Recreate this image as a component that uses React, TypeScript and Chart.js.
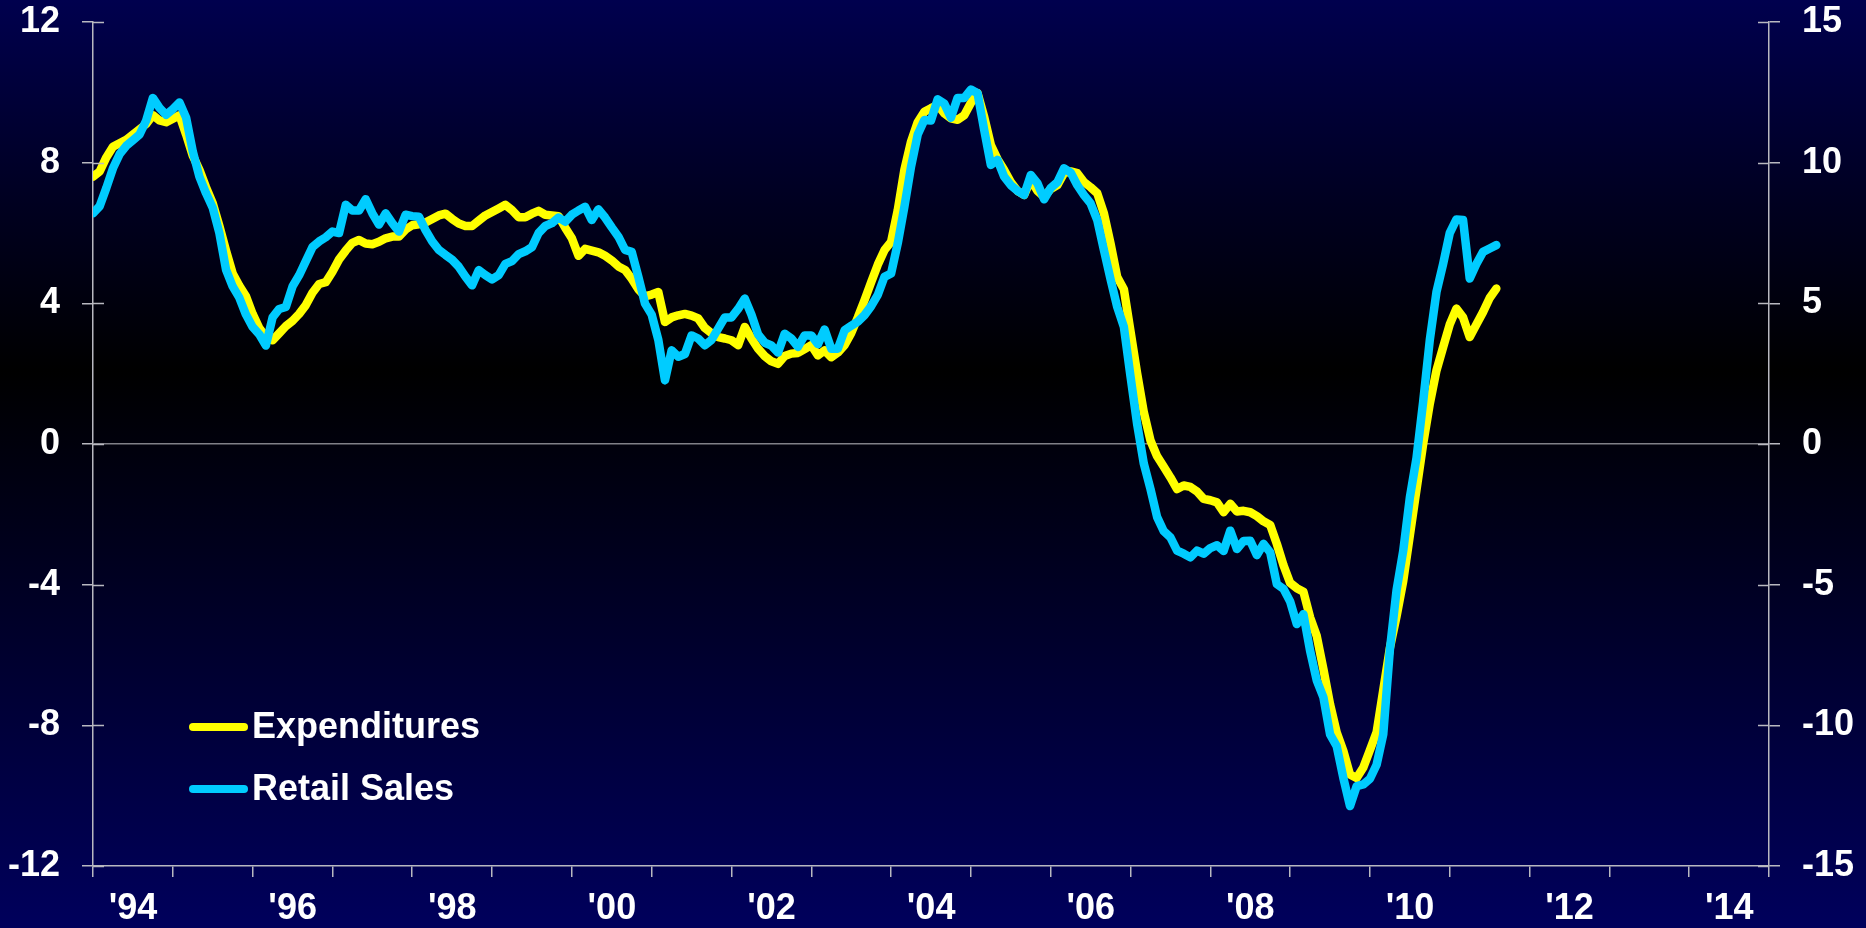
import React, { useEffect, useRef } from "react";
import { Chart, registerables } from "chart.js";

Chart.register(...registerables);

// ---- data -------------------------------------------------------------
const START_YEAR = 1994; // first monthly observation: Jan 1994
const END_YEAR = 2015; // axis runs to the end of 2014

const labelYears = [1994, 1996, 1998, 2000, 2002, 2004, 2006, 2008, 2010, 2012, 2014];
const xLabels = ["'94", "'96", "'98", "'00", "'02", "'04", "'06", "'08", "'10", "'12", "'14"];

const leftTicks = [-12, -8, -4, 0, 4, 8, 12];
const rightTicks = [-15, -10, -5, 0, 5, 10, 15];

const seriesNames = ["Expenditures", "Retail Sales"];
const seriesColors = ["#FFFF00", "#00CCFF"];

// Expenditures, y/y % (left axis), monthly from Jan 1994
const expenditures = [
  7.6, 7.75, 8.15, 8.45, 8.55, 8.65, 8.8, 8.95, 9.1, 9.35, 9.2, 9.15,
  9.25, 9.35, 8.8, 8.2, 7.8, 7.3, 6.85, 6.2, 5.5, 4.85, 4.5, 4.2,
  3.7, 3.3, 3.05, 2.95, 3.15, 3.35, 3.5, 3.7, 3.95, 4.3, 4.55, 4.6,
  4.9, 5.25, 5.5, 5.72, 5.8, 5.7, 5.68, 5.75, 5.85, 5.9, 5.9, 6.1,
  6.22, 6.25, 6.3, 6.4, 6.5, 6.55, 6.4, 6.27, 6.2, 6.2, 6.35, 6.5,
  6.6, 6.7, 6.8, 6.65, 6.45, 6.45, 6.55, 6.63, 6.52, 6.5, 6.48, 6.15,
  5.85, 5.35, 5.55, 5.5, 5.45, 5.35, 5.22, 5.05, 4.95, 4.7, 4.4, 4.2,
  4.25, 4.32, 3.47, 3.6, 3.66, 3.7, 3.65, 3.57, 3.3, 3.15, 3.04, 3.0,
  2.95, 2.81, 3.33, 3.0, 2.71, 2.5, 2.35, 2.28, 2.5, 2.57, 2.59, 2.7,
  2.81, 2.52, 2.66, 2.47, 2.6, 2.81, 3.15, 3.6, 4.09, 4.6, 5.1, 5.51,
  5.75, 6.65, 7.8, 8.6, 9.15, 9.45, 9.55, 9.64, 9.4, 9.26, 9.22, 9.35,
  9.7, 9.98, 9.3, 8.5, 8.1, 7.79, 7.45, 7.2, 7.08, 7.51, 7.2, 7.03,
  7.25, 7.36, 7.7, 7.75, 7.7, 7.45, 7.3, 7.13, 6.56, 5.7, 4.75, 4.4,
  3.2, 2.0, 0.9, 0.1, -0.35, -0.65, -0.95, -1.28, -1.18, -1.22, -1.35, -1.56,
  -1.6, -1.66, -1.94, -1.7, -1.92, -1.9, -1.94, -2.05, -2.2, -2.3, -2.84, -3.45,
  -3.95, -4.1, -4.2, -4.93, -5.46, -6.4, -7.4, -8.2, -8.73, -9.4, -9.5, -9.2,
  -8.7, -8.2, -7.0, -5.8, -4.9, -3.9, -2.6, -1.3, 0.0, 1.15, 2.09, 2.75,
  3.4, 3.85, 3.6, 3.04, 3.4, 3.75, 4.15, 4.42,
];

// Retail Sales, y/y % (right axis), monthly from Jan 1994
const retailSales = [
  8.2, 8.45, 9.1, 9.8, 10.3, 10.6, 10.8, 11.0, 11.5, 12.3, 11.95, 11.7,
  11.9, 12.14, 11.6, 10.4, 9.5, 8.91, 8.4, 7.5, 6.2, 5.6, 5.2, 4.6,
  4.16, 3.9, 3.5, 4.5, 4.8, 4.87, 5.6, 6.0, 6.5, 7.0, 7.2, 7.35,
  7.55, 7.5, 8.5, 8.3, 8.3, 8.7, 8.2, 7.8, 8.2, 7.85, 7.55, 8.15,
  8.1, 8.08, 7.6, 7.2, 6.9, 6.72, 6.55, 6.3, 5.95, 5.64, 6.18, 6.0,
  5.85, 6.0, 6.4, 6.5, 6.75, 6.85, 7.0, 7.5, 7.75, 7.85, 8.05, 7.9,
  8.15, 8.3, 8.43, 7.96, 8.34, 8.05, 7.7, 7.37, 6.9, 6.83, 5.94, 4.99,
  4.6, 3.7, 2.26, 3.33, 3.1, 3.2, 3.86, 3.75, 3.51, 3.7, 4.1, 4.5,
  4.5, 4.8, 5.17, 4.6, 3.9, 3.6, 3.5, 3.25, 3.92, 3.75, 3.45, 3.86,
  3.86, 3.55, 4.07, 3.39, 3.39, 4.04, 4.2, 4.35, 4.58, 4.9, 5.3, 5.94,
  6.06, 7.13, 8.43, 9.86, 11.0, 11.52, 11.5, 12.25, 12.1, 11.6, 12.3, 12.3,
  12.6, 12.47, 11.16, 9.92, 10.1, 9.5, 9.2, 9.0, 8.85, 9.56, 9.27, 8.7,
  9.1, 9.3, 9.8, 9.65, 9.2, 8.85, 8.55, 7.96, 6.89, 5.85, 4.87, 4.16,
  2.4, 0.7, -0.7, -1.6, -2.6, -3.1, -3.32, -3.79, -3.9, -4.03, -3.79, -3.9,
  -3.7, -3.6, -3.8, -3.08, -3.73, -3.45, -3.44, -3.95, -3.55, -3.85, -4.98, -5.15,
  -5.6, -6.4, -6.05, -7.35, -8.4, -9.0, -10.32, -10.74, -11.87, -12.87, -12.16, -12.1,
  -11.9, -11.4, -10.32, -7.3, -5.2, -3.8, -1.9, -0.5, 1.5, 3.7, 5.4, 6.4,
  7.5, 7.98, 7.96, 5.88, 6.4, 6.83, 6.95, 7.07,
];

// ---- styling ------------------------------------------------------------
const FONT = "'Liberation Sans', Arial, Helvetica, sans-serif";
const AXIS_COLOR = "#b8b8c0";
const TICK_LEN = 11;
const LINE_WIDTH = 8.5;

const toPoints = (vals: number[]) =>
  vals.map((v, i) => ({ x: START_YEAR + i / 12, y: v }));

const decorPlugin = {
  id: "decor",
  afterDraw(chart: any) {
    const ctx = chart.ctx as CanvasRenderingContext2D;
    const { left, right, bottom } = chart.chartArea;
    const yl = chart.scales.y;
    const yr = chart.scales.y2;
    ctx.save();
    // inner halves of the crossing tick marks
    ctx.strokeStyle = AXIS_COLOR;
    ctx.lineWidth = 1.5;
    yl.ticks.forEach((t: any) => {
      const p = Math.round(yl.getPixelForValue(t.value)) + 0.5;
      ctx.beginPath();
      ctx.moveTo(left, p);
      ctx.lineTo(left + TICK_LEN, p);
      ctx.stroke();
    });
    yr.ticks.forEach((t: any) => {
      const p = Math.round(yr.getPixelForValue(t.value)) + 0.5;
      ctx.beginPath();
      ctx.moveTo(right - TICK_LEN, p);
      ctx.lineTo(right, p);
      ctx.stroke();
    });
    // legend
    const lx = left + 100;
    const rows = [bottom - 139, bottom - 77];
    ctx.font = `bold 36px ${FONT}`;
    ctx.textBaseline = "middle";
    ctx.textAlign = "left";
    chart.data.datasets.forEach((ds: any, i: number) => {
      const y = rows[i];
      ctx.strokeStyle = ds.borderColor;
      ctx.lineWidth = 8;
      ctx.lineCap = "round";
      ctx.beginPath();
      ctx.moveTo(lx, y);
      ctx.lineTo(lx + 51, y);
      ctx.stroke();
      ctx.fillStyle = "#ffffff";
      ctx.fillText(ds.label, lx + 59, y + 1);
    });
    ctx.restore();
  },
};

const zeroPad = (s: any) => {
  s.paddingTop = 0;
  s.paddingBottom = 0;
  s.paddingLeft = 0;
  s.paddingRight = 0;
};

export default function App() {
  const canvasRef = useRef<HTMLCanvasElement | null>(null);

  useEffect(() => {
    if (!canvasRef.current) return;
    const tickFont = { family: FONT, size: 36, weight: "bold" as const };

    const chart = new Chart(canvasRef.current, {
      type: "line",
      data: {
        datasets: [
          {
            label: seriesNames[0],
            data: toPoints(expenditures),
            borderColor: seriesColors[0],
            backgroundColor: seriesColors[0],
            borderWidth: LINE_WIDTH,
            pointRadius: 0,
            tension: 0,
            borderJoinStyle: "round",
            borderCapStyle: "round",
            yAxisID: "y",
            order: 2,
          },
          {
            label: seriesNames[1],
            data: toPoints(retailSales),
            borderColor: seriesColors[1],
            backgroundColor: seriesColors[1],
            borderWidth: LINE_WIDTH,
            pointRadius: 0,
            tension: 0,
            borderJoinStyle: "round",
            borderCapStyle: "round",
            yAxisID: "y2",
            order: 1,
          },
        ],
      },
      options: {
        animation: false,
        responsive: false,
        devicePixelRatio: 1,
        parsing: false,
        layout: { padding: { top: 22, left: 0, right: 0, bottom: 0 } },
        plugins: {
          legend: { display: false },
          tooltip: { enabled: false },
        },
        scales: {
          x: {
            type: "linear",
            position: "bottom",
            min: START_YEAR,
            max: END_YEAR,
            afterBuildTicks: (s: any) => {
              const t = [];
              for (let yr = START_YEAR; yr <= END_YEAR; yr++) t.push({ value: yr });
              s.ticks = t;
            },
            afterFit: (s: any) => {
              s.height = 62;
              zeroPad(s);
            },
            ticks: {
              autoSkip: false,
              maxRotation: 0,
              minRotation: 0,
              labelOffset: 40,
              padding: 10,
              color: "#ffffff",
              font: tickFont,
              callback: (v: any) => {
                const idx = labelYears.indexOf(Number(v));
                return idx >= 0 ? xLabels[idx] : "";
              },
            },
            grid: {
              drawOnChartArea: false,
              color: AXIS_COLOR,
              tickLength: TICK_LEN,
              lineWidth: 1.5,
            },
            border: { color: AXIS_COLOR, width: 1.5 },
          },
          y: {
            type: "linear",
            position: "left",
            min: leftTicks[0],
            max: leftTicks[leftTicks.length - 1],
            afterBuildTicks: (s: any) => {
              s.ticks = leftTicks.map((v) => ({ value: v }));
            },
            afterFit: (s: any) => {
              s.width = 93;
              zeroPad(s);
            },
            ticks: {
              color: "#ffffff",
              font: tickFont,
              padding: 22,
            },
            grid: {
              color: (c: any) => (c.tick && c.tick.value === 0 ? "#808088" : "rgba(0,0,0,0)"),
              tickColor: AXIS_COLOR,
              tickLength: TICK_LEN,
              lineWidth: 1.5,
            },
            border: { color: AXIS_COLOR, width: 1.5 },
          },
          y2: {
            type: "linear",
            position: "right",
            min: rightTicks[0],
            max: rightTicks[rightTicks.length - 1],
            afterBuildTicks: (s: any) => {
              s.ticks = rightTicks.map((v) => ({ value: v }));
            },
            afterFit: (s: any) => {
              s.width = 97;
              zeroPad(s);
            },
            ticks: {
              color: "#ffffff",
              font: tickFont,
              padding: 22,
            },
            grid: {
              drawOnChartArea: false,
              color: AXIS_COLOR,
              tickLength: TICK_LEN,
              lineWidth: 1.5,
            },
            border: { color: AXIS_COLOR, width: 1.5 },
          },
        },
      },
      plugins: [decorPlugin],
    });

    return () => chart.destroy();
  }, []);

  return (
    <div
      style={{
        position: "fixed",
        left: 0,
        top: 0,
        width: 1866,
        height: 928,
        background:
          "linear-gradient(to bottom, #00004E 0%, #000020 22%, #000000 40%, #00001E 60%, #00005C 100%)",
      }}
    >
      <canvas ref={canvasRef} width={1866} height={928} style={{ display: "block" }} />
    </div>
  );
}
